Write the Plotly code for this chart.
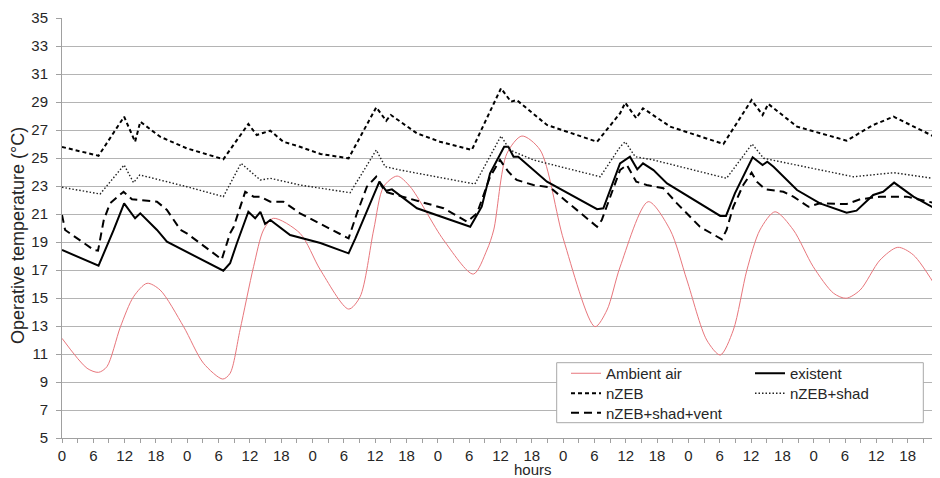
import plotly.graph_objects as go

# ---------------- data ----------------
ambient_h = [0, 4.8, 7.0, 8.6, 11.2, 13.7, 16.3, 18.8, 23.3, 27.1, 30.8, 32.2, 34.1, 36.7, 38.6, 40.5,
             45.6, 49.5, 54.9, 57.1, 59.7, 61.6, 64.2, 66.7, 73.1, 78.8, 81.4, 82.7, 85.2, 88.1, 91.6,
             96.1, 102.1, 104.4, 106.9, 112.3, 116.5, 119.7, 123.5, 126.1, 128.6, 131.2, 133.7, 136.6,
             140.1, 143.9, 147.8, 150.2, 152.9, 156.7, 160.1, 163.1, 168]
ambient_t = [12.12, 9.98, 9.69, 10.09, 12.95, 15.09, 16.05, 15.57, 12.95, 10.34, 9.21, 9.62, 12.71, 17.24, 19.86, 20.69,
             19.62, 17.0, 14.21, 15.09, 19.86, 22.95, 23.71, 22.95, 19.14, 16.71, 18.43, 19.86, 25.3, 26.57, 25.57,
             19.14, 12.95, 14.14, 17.21, 21.88, 19.86, 16.29, 12.0, 10.93, 12.71, 17.0, 19.86, 21.16,
             19.86, 17.24, 15.34, 14.98, 15.57, 17.71, 18.62, 18.07, 15.45]

existent_h = [0, 7.0, 9.9, 11.9, 14.0, 15.0, 18.2, 20.1, 30.9, 32.2, 33.5, 35.7, 37.0, 38.0, 38.9, 39.9, 43.7,
              49.5, 54.9, 56.2, 60.8, 62.1, 63.2, 68.0, 78.2, 80.4, 82.0, 84.7, 85.5, 86.5, 87.4, 92.9,
              102.5, 103.7, 106.9, 108.8, 110.2, 111.3, 113.3, 115.9, 126.1, 127.2, 128.9, 132.3, 134.2,
              135.1, 136.3, 140.8, 145.2, 150.3, 152.2, 155.4, 157.3, 159.4, 163.1, 168]
existent_t = [18.43, 17.31, 19.86, 21.76, 20.69, 21.05, 19.86, 19.02, 16.95, 17.48, 18.91, 21.16, 20.69, 21.16, 20.29, 20.57, 19.5,
              18.93, 18.19, 19.26, 23.31, 22.66, 22.76, 21.41, 20.09, 21.52, 23.91, 25.81, 25.81, 25.09, 25.09, 23.31,
              21.34, 21.41, 24.62, 25.09, 24.19, 24.62, 24.14, 23.19, 20.86, 20.86, 22.48, 25.05, 24.5,
              24.74, 24.38, 22.71, 21.76, 21.09, 21.24, 22.36, 22.59, 23.24, 22.24, 21.24]

nzeb_h = [0, 7.0, 11.9, 14.0, 15.0, 18.8, 23.9, 30.9, 35.7, 37.3, 38.5, 39.9, 42.4, 45.6, 49.5, 54.9,
          60.2, 62.1, 63.0, 68.0, 72.4, 78.5, 84.1, 86.0, 87.1, 92.9, 102.5, 106.9, 107.9, 110.0, 111.3,
          112.7, 116.5, 126.7, 132.1, 134.2, 135.3, 140.8, 150.3, 155.4, 159.3, 168]
nzeb_t = [25.79, 25.16, 27.95, 26.16, 27.59, 26.52, 25.69, 24.91, 27.43, 26.64, 26.79, 26.95, 26.16, 25.8, 25.29, 24.98,
          28.62, 27.66, 28.07, 26.76, 26.16, 25.57, 29.98, 29.02, 29.14, 27.36, 26.16, 28.19, 28.95, 27.84, 28.55,
          28.19, 27.24, 26.0, 29.14, 28.07, 28.86, 27.24, 26.24, 27.36, 27.95, 26.36]

shad_h = [0, 7.3, 11.9, 13.7, 14.9, 23.9, 30.9, 34.3, 38.0, 39.9, 45.6, 49.5, 55.2, 60.2, 61.9, 64.8,
          79.1, 84.1, 85.8, 90.3, 103.1, 106.9, 107.9, 109.8, 113.3, 127.3, 132.2, 134.4, 151.6, 159.3, 168]
shad_t = [22.91, 22.43, 24.5, 23.24, 23.79, 22.95, 22.24, 24.62, 23.43, 23.55, 23.07, 22.84, 22.52, 25.57, 24.38, 24.14,
          23.14, 26.57, 25.57, 24.86, 23.66, 25.79, 26.16, 25.09, 24.86, 23.55, 26.0, 24.98, 23.66, 23.95, 23.48]

vent_h = [0, 0.6, 6.1, 6.9, 8.0, 9.2, 11.8, 13.4, 18.2, 20.1, 22.7, 23.9, 30.6, 32.2, 32.9, 35.1, 36.7,
          38.0, 39.9, 42.4, 45.6, 49.5, 54.9, 56.5, 58.4, 60.2, 61.9, 62.9, 68.6, 73.1, 77.6, 79.5, 82.0,
          83.9, 85.5, 87.1, 90.3, 93.5, 96.7, 102.5, 103.4, 106.9, 108.2, 110.0, 112.0, 115.2, 117.8,
          122.2, 126.4, 127.3, 128.6, 130.5, 132.1, 133.1, 134.7, 138.2, 140.1, 143.0, 145.2, 150.3,
          152.9, 156.7, 161.8, 168]
vent_t = [20.93, 19.86, 18.43, 18.38, 20.57, 21.76, 22.59, 22.05, 21.88, 21.29, 19.86, 19.62, 17.76, 19.62, 20.09, 22.59, 22.24,
          22.24, 21.88, 21.88, 21.05, 20.29, 19.26, 21.05, 22.95, 23.66, 22.59, 22.48, 21.88, 21.41, 20.45, 21.05, 23.66,
          24.86, 24.02, 23.43, 23.07, 22.91, 21.88, 20.09, 20.57, 24.14, 24.5, 23.31, 23.07, 22.84, 21.76,
          20.09, 19.19, 19.86, 21.52, 23.07, 23.95, 23.31, 22.76, 22.59, 22.24, 21.52, 21.76, 21.71,
          22.05, 22.24, 22.24, 21.71]

tick_hours = [0, 6, 12, 18, 24, 30, 36, 42, 48, 54, 60, 66, 72, 78, 84, 90, 96, 102, 108, 114,
              120, 126, 132, 138, 144, 150, 156, 162, 168]
tick_labels = ["0", "6", "12", "18", "0", "6", "12", "18", "0", "6", "12", "18", "0", "6", "12", "18",
               "0", "6", "12", "18", "0", "6", "12", "18", "0", "6", "12", "18", "0"]
minor_hours = [h + 3 for h in tick_hours[:-1]]
y_ticks = [5, 7, 9, 11, 13, 15, 17, 19, 21, 23, 25, 27, 29, 31, 33, 35]

# ---------------- figure ----------------
FONT = "Liberation Sans, Arial, sans-serif"
TXT = "#262626"
GRID = "#b4b4b4"
BODY = 8  # default page margin of the html body

fig = go.Figure()
fig.add_trace(go.Scatter(x=ambient_h, y=ambient_t, name="Ambient air", mode="lines",
                         line=dict(color="#e8767c", width=1, shape="spline", smoothing=0.8),
                         legend="legend"))
fig.add_trace(go.Scatter(x=existent_h, y=existent_t, name="existent", mode="lines",
                         line=dict(color="black", width=2), legend="legend"))
fig.add_trace(go.Scatter(x=nzeb_h, y=nzeb_t, name="nZEB", mode="lines",
                         line=dict(color="black", width=2, dash="4px,3px"), legend="legend2"))
fig.add_trace(go.Scatter(x=shad_h, y=shad_t, name="nZEB+shad", mode="lines",
                         line=dict(color="#222222", width=1.4, dash="1.5px,2px"), legend="legend2"))
fig.add_trace(go.Scatter(x=vent_h, y=vent_t, name="nZEB+shad+vent", mode="lines",
                         line=dict(color="black", width=2, dash="8px,5px"), legend="legend3"))

PW = 940 - 62 - 1
PH = 420


def px_x(p):
    return (p - 62) / PW


def px_y(p):
    return (438 - p) / PH


leg_common = dict(orientation="h", entrywidth=139, entrywidthmode="pixels",
                  xanchor="left", yanchor="top", bgcolor="rgba(0,0,0,0)", borderwidth=0,
                  font=dict(family=FONT, size=15, color=TXT), itemclick=False)

fig.update_layout(
    width=940 - BODY, height=478 - BODY,
    margin=dict(l=62 - BODY, r=1, t=18 - BODY, b=40, autoexpand=False),
    paper_bgcolor="white", plot_bgcolor="white",
    font=dict(family=FONT, size=15, color=TXT),
    showlegend=True,
    legend=dict(x=px_x(566), y=px_y(357), **leg_common),
    legend2=dict(x=px_x(566), y=px_y(377), **leg_common),
    legend3=dict(x=px_x(566), y=px_y(396.5), **leg_common),
    xaxis=dict(range=[0, 168], tickmode="array", tickvals=tick_hours, ticktext=tick_labels,
               automargin=False, ticklabeloverflow="allow",
               showgrid=False, zeroline=False, showline=True, linecolor="#a0a0a0", linewidth=1,
               ticks="outside", ticklen=4, tickcolor="#a0a0a0",
               minor=dict(tickmode="array", tickvals=minor_hours, ticks="outside", ticklen=4,
                          tickcolor="#a0a0a0", showgrid=False),
               tickfont=dict(family=FONT, size=15, color=TXT)),
    yaxis=dict(range=[5, 35], tickmode="array", tickvals=y_ticks, automargin=False,
               showgrid=True, gridcolor=GRID, gridwidth=1, zeroline=False,
               showline=True, linecolor="#a0a0a0", linewidth=1,
               ticks="outside", ticklen=5, tickcolor="#a0a0a0", ticklabelstandoff=5,
               tickfont=dict(family=FONT, size=15, color=TXT)),
    shapes=[dict(type="rect", xref="paper", yref="paper",
                 x0=px_x(556.7), x1=px_x(923.3), y0=px_y(422.7), y1=px_y(362.7),
                 line=dict(color="#a8a8a8", width=1), fillcolor="white", layer="above")],
    annotations=[
        dict(text="Operative temperature (°C)", xref="paper", yref="paper",
             x=px_x(18), y=px_y(236), xanchor="center", yanchor="middle", textangle=-90,
             showarrow=False, font=dict(family=FONT, size=18, color=TXT)),
        dict(text="hours", xref="paper", yref="paper",
             x=px_x(533), y=px_y(469.5), xanchor="center", yanchor="middle",
             showarrow=False, font=dict(family=FONT, size=15, color=TXT)),
    ],
)

fig.write_html("out.html")
